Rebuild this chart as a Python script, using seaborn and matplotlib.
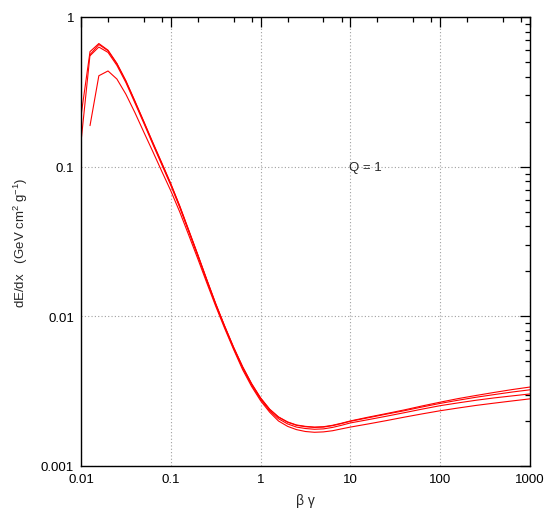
import numpy as np
import pandas as pd
import matplotlib
matplotlib.use("Agg")
import matplotlib.pyplot as plt
import matplotlib.ticker as mticker
import seaborn as sns

# ---- data ----
x_grid = [0.01, 0.0126, 0.0158, 0.02, 0.0251, 0.0316, 0.0398, 0.0501, 0.0631, 0.0794,
          0.1, 0.126, 0.158, 0.2, 0.251, 0.316, 0.398, 0.501, 0.631, 0.794,
          1.0, 1.26, 1.58, 2.0, 2.51, 3.16, 3.98, 5.01, 6.31, 7.94,
          10, 15.8, 25.1, 39.8, 63.1, 100, 158, 251, 398, 631, 1000]

curve_a = [0.218, 0.587, 0.665, 0.600, 0.490, 0.375, 0.275, 0.200, 0.145, 0.106,
           0.0770, 0.0545, 0.0378, 0.0258, 0.0177, 0.0122, 0.0086, 0.0062, 0.0046, 0.00355,
           0.00285, 0.00240, 0.00213, 0.00197, 0.00188, 0.00184, 0.00182, 0.00183, 0.00187, 0.00193,
           0.00200, 0.00212, 0.00224, 0.00237, 0.00252, 0.00267, 0.00282, 0.00296, 0.00310, 0.00324, 0.00337]

curve_b = [0.146, 0.560, 0.655, 0.595, 0.487, 0.373, 0.273, 0.199, 0.144, 0.105,
           0.0765, 0.0542, 0.0376, 0.0257, 0.0176, 0.0121, 0.0086, 0.0062, 0.0046, 0.00354,
           0.00284, 0.00239, 0.00212, 0.00196, 0.00187, 0.00183, 0.00181, 0.00182, 0.00186, 0.00192,
           0.00199, 0.00210, 0.00222, 0.00234, 0.00248, 0.00262, 0.00275, 0.00288, 0.00300, 0.00312, 0.00323]

curve_c = [None, 0.551, 0.630, 0.580, 0.475, 0.365, 0.267, 0.195, 0.141, 0.103,
           0.0750, 0.0532, 0.0370, 0.0253, 0.0174, 0.0120, 0.0085, 0.0061, 0.0045, 0.00348,
           0.00279, 0.00234, 0.00207, 0.00191, 0.00182, 0.00178, 0.00176, 0.00177, 0.00181, 0.00187,
           0.00194, 0.00204, 0.00215, 0.00227, 0.00240, 0.00253, 0.00264, 0.00275, 0.00285, 0.00294, 0.00303]

curve_d = [None, 0.188, 0.405, 0.436, 0.385, 0.305, 0.230, 0.170, 0.126, 0.093,
           0.0690, 0.0497, 0.0350, 0.0242, 0.0168, 0.0117, 0.0083, 0.0060, 0.0044, 0.00340,
           0.00273, 0.00229, 0.00200, 0.00184, 0.00175, 0.00170, 0.00168, 0.00169, 0.00172, 0.00177,
           0.00182, 0.00191, 0.00201, 0.00212, 0.00223, 0.00234, 0.00244, 0.00254, 0.00263, 0.00272, 0.00281]

series_names = ["a", "b", "c", "d"]
x_tick_values = [0.01, 0.1, 1, 10, 100, 1000]
x_tick_labels = ["0.01", "0.1", "1", "10", "100", "1000"]
y_tick_values = [0.001, 0.01, 0.1, 1]
y_tick_labels = ["0.001", "0.01", "0.1", "1"]

rows = []
for name, ys in zip(series_names, [curve_a, curve_b, curve_c, curve_d]):
    for xv, yv in zip(x_grid, ys):
        if yv is not None:
            rows.append({"bg": xv, "dedx": yv, "curve": name})
df = pd.DataFrame(rows)

sns.set_theme(style="white")
plt.rcParams['font.family'] = ['Liberation Sans', 'DejaVu Sans']
plt.rcParams['mathtext.fontset'] = 'custom'
plt.rcParams['mathtext.rm'] = 'Liberation Sans'

fig = plt.figure(figsize=(5.54, 5.10), dpi=100)
ax = fig.add_axes([81/554, 1-467/510, (530-81)/554, (467-18)/510])

sns.lineplot(data=df, x="bg", y="dedx", hue="curve", estimator=None, sort=False,
             palette=["#ff0000"]*4, linewidth=0.8, legend=False, ax=ax)

ax.set_xscale("log")
ax.set_yscale("log")
ax.set_xlim(0.01, 1000)
ax.set_ylim(0.001, 1)

ax.xaxis.set_major_locator(mticker.FixedLocator(x_tick_values))
ax.xaxis.set_major_formatter(mticker.FixedFormatter(x_tick_labels))
ax.xaxis.set_minor_locator(mticker.LogLocator(base=10, subs=(2, 5, 8)))
ax.xaxis.set_minor_formatter(mticker.NullFormatter())
ax.yaxis.set_major_locator(mticker.FixedLocator(y_tick_values))
ax.yaxis.set_major_formatter(mticker.FixedFormatter(y_tick_labels))
ax.yaxis.set_minor_locator(mticker.LogLocator(base=10, subs=np.arange(2, 10)))
ax.yaxis.set_minor_formatter(mticker.NullFormatter())

ax.tick_params(which="both", direction="in", top=True, right=True, colors="black",
               labelsize=9.5, pad=5)
ax.tick_params(which="major", length=7, width=0.9)
ax.tick_params(which="minor", length=3.5, width=0.9)
ax.grid(True, which="major", color="#a0a0a0", linestyle=(0, (1, 2)), linewidth=0.8)
for s in ax.spines.values():
    s.set_color("black")
    s.set_linewidth(1.0)

ax.set_xlabel(r"β γ", fontsize=10, labelpad=6)
ax.set_ylabel(r"dE/dx   (GeV cm$^{2}$ g$^{-1}$)", fontsize=9.5, labelpad=8)
ax.text(9.6, 0.1, "Q = 1", fontsize=9.5, va="center", ha="left")

fig.savefig("out.png", dpi=100)
